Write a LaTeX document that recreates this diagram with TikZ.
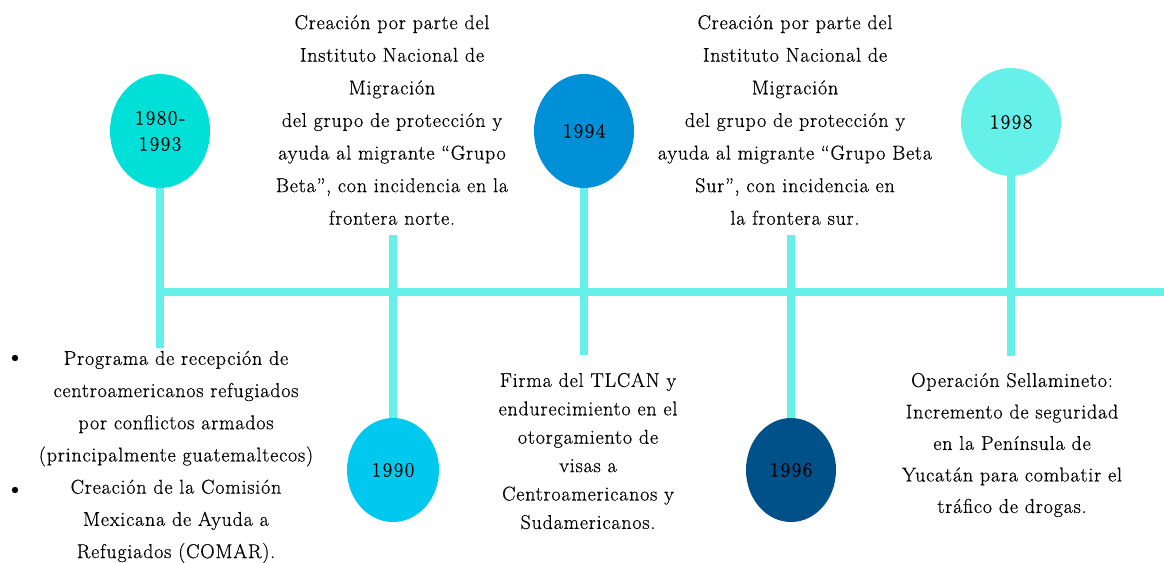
\documentclass[tikz,border=0pt]{standalone}
\usepackage{fontspec}
\setmainfont{Latin Modern Roman}[LetterSpace=4, FakeBold=0.6]
\newfontfamily\yearfont{Latin Modern Roman}[LetterSpace=8, FakeBold=0.6]
\usetikzlibrary{shapes.geometric}
\definecolor{linec}{HTML}{66F0EA}
\definecolor{ca}{HTML}{00E0D8}
\definecolor{cb}{HTML}{00C8EE}
\definecolor{cc}{HTML}{0090D8}
\definecolor{cd}{HTML}{00508A}
\definecolor{ce}{HTML}{66F0EA}
\tikzset{
  yearc/.style={ellipse, inner sep=0pt, minimum width=100pt, minimum height=114pt, align=center, text=black, font=\yearfont\fontsize{20.5}{26}\selectfont},
  tline/.style={draw=linec, line width=8pt},
  desc/.style={align=center, inner sep=0pt, text=black},
}
\begin{document}
\begin{tikzpicture}[x=1pt,y=-1pt]
\useasboundingbox (0,0) rectangle (1164,562);
% main horizontal line
\coordinate (hl) at (160,292);
\coordinate (hr) at (1168,292);
\draw[tline] (hl) -- (hr);
% circles
\node[yearc, fill=ca] (c1) at (160,131) {1980-\\1993};
\node[yearc, fill=cb, minimum width=92pt, minimum height=104pt] (c2) at (393,470) {1990};
\node[yearc, fill=cc] (c3) at (584,131) {1994};
\node[yearc, fill=cd, minimum width=90pt, minimum height=104pt] (c4) at (791,470) {1996};
\node[yearc, fill=ce, minimum width=100pt, minimum height=108pt] (c5) at (1011,122) {1998};
% stems
\coordinate (e1) at (160,348);
\coordinate (e2) at (393,235);
\coordinate (e3) at (584,355);
\coordinate (e4) at (791,235);
\coordinate (e5) at (1011,356);
\draw[tline] (c1.south) -- (e1);
\draw[tline] (e2) -- (c2.north);
\draw[tline] (c3.south) -- (e3);
\draw[tline] (e4) -- (c4.north);
\draw[tline] (c5.south) -- (e5);
% texts
\node[desc, font=\fontsize{20}{32.6}\selectfont] (t1) at (392,120) {Creación por parte del\\Instituto Nacional de\\Migración\\del grupo de protección y\\ayuda al migrante “Grupo\\Beta”, con incidencia en la\\frontera norte.};
\node[desc, font=\fontsize{20}{32.6}\selectfont] (t2) at (795,120) {Creación por parte del\\Instituto Nacional de\\Migración\\del grupo de protección y\\ayuda al migrante “Grupo Beta\\Sur”, con incidencia en\\la frontera sur.};
\node[desc, font=\fontsize{20}{32.2}\selectfont] (t3) at (176,457) {Programa de recepción de\\centroamericanos refugiados\\por conflictos armados\\(principalmente guatemaltecos)\\Creación de la Comisión\\Mexicana de Ayuda a\\Refugiados (COMAR).};
\fill[black] (15,358) circle[radius=3.2pt] node[inner sep=0pt] (b1) {};
\fill[black] (15,490) circle[radius=3.2pt] node[inner sep=0pt] (b2) {};
\node[desc, font=\fontsize{20}{28.4}\selectfont] (t4) at (588,451) {Firma del TLCAN y\\endurecimiento en el\\otorgamiento de\\visas a\\Centroamericanos y\\Sudamericanos.};
\node[desc, font=\fontsize{20}{31.5}\selectfont] (t5) at (1012,445) {Operación Sellamineto:\\Incremento de seguridad\\en la Península de\\Yucatán para combatir el\\tráfico de drogas.};
\end{tikzpicture}
\end{document}
